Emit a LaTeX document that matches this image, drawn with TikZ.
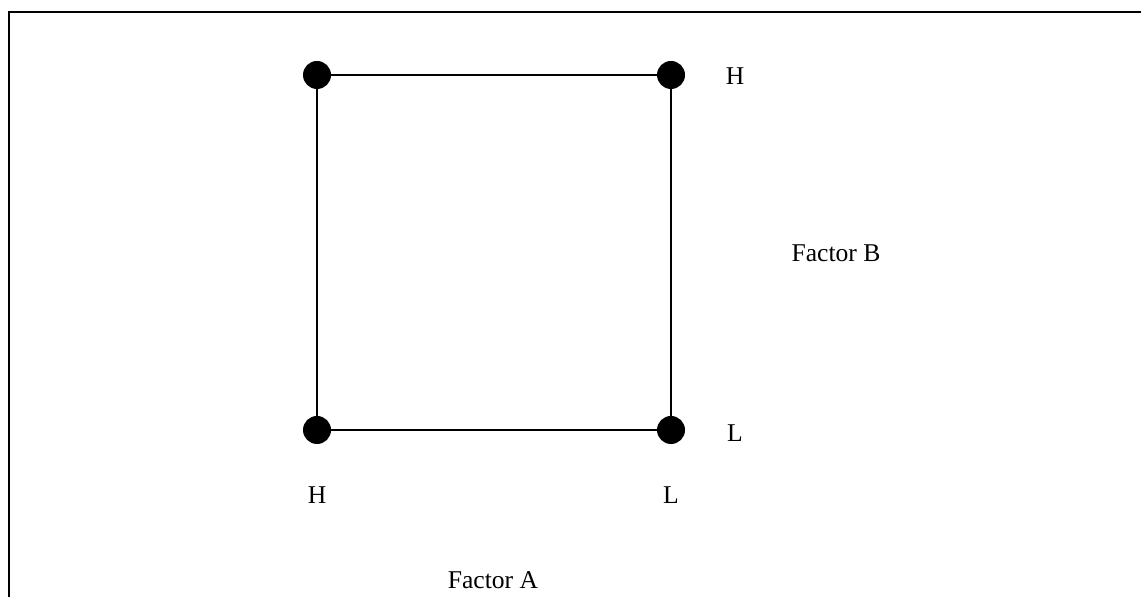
\documentclass[tikz,border=0pt]{standalone}
\usepackage{fontspec}
\setmainfont{Liberation Serif}
\begin{document}
\begin{tikzpicture}[x=0.5pt,y=-0.5pt,
  dot/.style={circle,fill=black,inner sep=0pt,minimum size=14pt},
  lbl/.style={font=\fontsize{12.8}{15}\selectfont,inner sep=0pt},
  edge/.style={line width=0.75pt},
  frame/.style={line width=1pt}]
\useasboundingbox (0,0) rectangle (1141,597);
\coordinate (ftl) at (9,12);
\coordinate (fbl) at (9,597);
\coordinate (ftr) at (1141,12);
\draw[frame] (fbl) -- (ftl) -- (ftr);
\node[dot] (a) at (317,75) {};
\node[dot] (b) at (671,75) {};
\node[dot] (c) at (317,430) {};
\node[dot] (d) at (671,430) {};
\draw[edge] (a) -- (b) -- (d) -- (c) -- (a);
\node[lbl] (bh) at (735,76) {H};
\node[lbl] (bl) at (735,433) {L};
\node[lbl] (fb) at (836,253) {Factor B};
\node[lbl] (ah) at (317,495) {H};
\node[lbl] (al) at (671,495) {L};
\node[lbl] (fa) at (493,580) {Factor A};
\end{tikzpicture}
\end{document}
